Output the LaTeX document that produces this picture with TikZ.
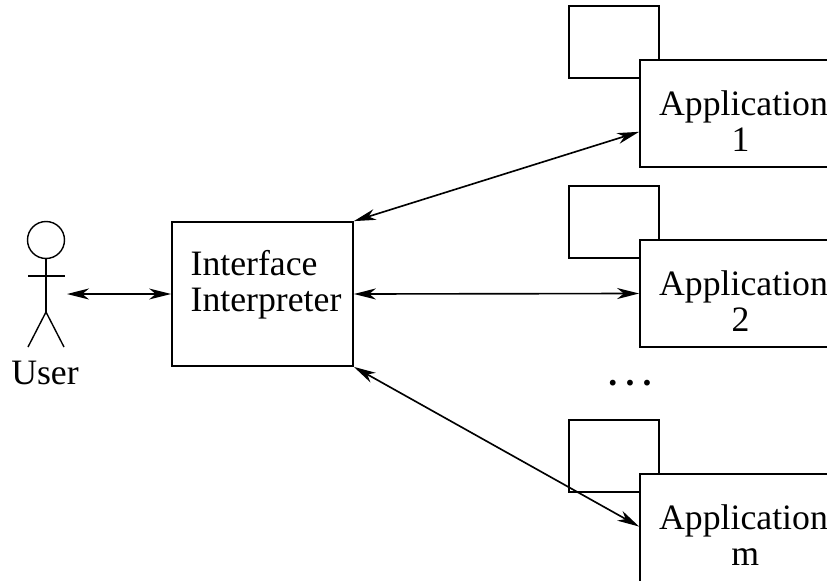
\documentclass[tikz,border=0pt]{standalone}
\usepackage{fontspec}
\setmainfont{Liberation Serif}
\usetikzlibrary{arrows.meta}

\tikzset{
  box/.style={draw, line width=1.5pt, fill=white, inner sep=0pt},
  smallbox/.style={box, minimum width=2.7cm, minimum height=2.16cm},
  appbox/.style={box, minimum width=6.18cm, minimum height=3.21cm},
  bigtext/.style={font=\fontsize{30.5}{30.5}\selectfont, align=center, inner sep=0pt},
  link/.style={line width=1.4pt, {Stealth[length=0.66cm,width=0.33cm,inset=0.2cm]}-{Stealth[length=0.66cm,width=0.33cm,inset=0.2cm]}},
  stick/.style={line width=1.2pt}
}

\begin{document}
\begin{tikzpicture}[x=0.03cm,y=-0.03cm]
      \useasboundingbox (0,0) rectangle (827,581);
      \clip (0,0) rectangle (827,581);

      % user
      \node[draw, stick, circle, minimum size=1.11cm, inner sep=0pt] (head) at (46,240) {};
      \coordinate (hip) at (46,312);
      \coordinate (armleft) at (28,276);
      \coordinate (armright) at (65,276);
      \coordinate (footleft) at (28,347);
      \coordinate (footright) at (64,347);
      \coordinate (hand) at (67,294);
      \draw[stick] (head.south) -- (hip);
      \draw[stick] (armleft) -- (armright);
      \draw[stick] (footleft) -- (hip) -- (footright);
      \node[bigtext] (user) at (45,373) {User};

      % interpreter
      \node[box, minimum width=5.43cm, minimum height=4.32cm] (interp) at (262.5,294) {};
      \node[bigtext, align=left] (interptext) at (266,285) {Interface\\Interpreter};

      % applications
      \node[smallbox] (small1) at (614,42) {};
      \node[smallbox] (small2) at (614,222) {};
      \node[smallbox] (smallm) at (614,456) {};
      \node[appbox] (app1) at (743,113.5) {};
      \node[appbox] (app2) at (743,293.5) {};
      \node[box, minimum width=6.18cm, minimum height=3.48cm] (appm) at (743,532) {};
      \node[bigtext] (text1) at (743.5,121) {Application\\\hspace*{-5pt}1};
      \node[bigtext] (text2) at (743.5,301) {Application\\\hspace*{-5pt}2};
      \node[bigtext] (textm) at (743.5,535) {Application\\\hspace*{3pt}m};
      \node[font=\fontsize{30.5}{30.5}\selectfont\bfseries, inner sep=0pt, anchor=base] (dots) at (630,385) {.\hspace{7pt}.\hspace{7pt}.};

      \draw[link] (hand) -- (interp.west);
      \draw[link] (interp.north east) -- (app1.190);
      \draw[link] (interp.east) -- (app2.west);
      \draw[link] (interp.south east) -- (appm.177);

    \end{tikzpicture}
\end{document}
